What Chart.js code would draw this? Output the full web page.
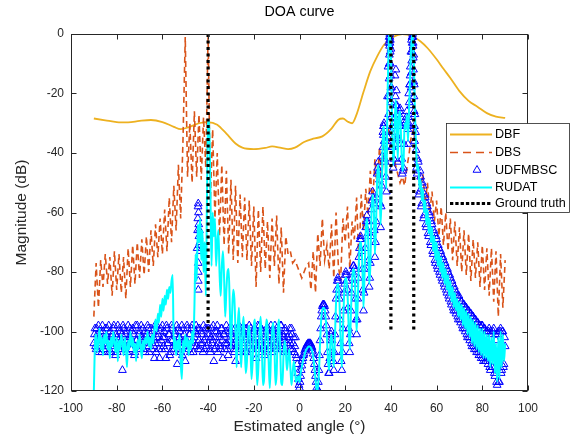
<!DOCTYPE html>
<html>
<head>
<meta charset="utf-8">
<script src="https://cdn.jsdelivr.net/npm/chart.js@4.4.1/dist/chart.umd.min.js"></script>
<style>
  html, body { margin: 0; padding: 0; background: #fff; }
  canvas { display: block; }
</style>
</head>
<body>
<canvas id="doaChart" width="583" height="437"></canvas>
<script>
// angle ticks and level ticks
const xTicks = [-100, -80, -60, -40, -20, 0, 20, 40, 60, 80, 100];
const yTicks = [-120, -100, -80, -60, -40, -20, 0];

// true directions of arrival
const truthAngles = [-40, 40, 50];
const truthLevels = [0, -100];

// DBF (smooth beam pattern)
const dbfAngles = [-90, -85, -80, -75, -70, -65, -60, -55, -52, -48,
    -44, -40, -36, -32, -28, -25, -20, -15, -12, -8,
    -5, -2, 2, 6, 10, 14, 17, 19, 21, 23,
    25, 28, 31, 34, 37, 41, 45, 49, 53, 56,
    60, 63, 66, 70, 74, 78, 82, 86, 90];
const dbfValues = [-28.4, -29.0, -29.6, -29.7, -29.2, -28.9, -29.6, -31.2, -32.0, -31.2,
    -30.0, -29.6, -30.5, -33.5, -36.8, -38.2, -38.7, -38.3, -37.8, -38.3,
    -38.7, -38.2, -36.3, -35.2, -34.4, -31.8, -28.8, -28.4, -29.4, -30.0,
    -27.0, -19.5, -12.5, -7.5, -3.6, -1.0, 0, -0.6, -2.5, -4.7,
    -8.5, -11.7, -14.8, -19.2, -22.5, -24.5, -26.6, -27.8, -28.2];

// DBS, sampled every 1 deg from -90 to 90
const dbsStart = -90, dbsStep = 1;
const dbsValues = [
    -95, -77, -92, -76, -85, -74, -84, -75, -88, -73,
    -86, -74, -87, -75, -89, -72, -85, -71, -84, -70,
    -82, -69, -81, -68, -80, -66, -78, -64, -75, -62,
    -74, -59, -73, -55, -70, -51, -66, -44, -62, -36,
    -1, -48, -30, -50, -26, -48, -27, -49, -28, -45,
    0, -56, -32, -62, -40, -68, -44, -71, -46, -74,
    -49, -76, -51, -77, -54, -75, -55, -76, -56, -78,
    -58, -85, -59, -80, -58, -79, -63, -82, -62, -78,
    -61, -84, -65, -87, -68, -74, -73, -77, -76, -78,
    -80, -82, -80, -78, -77, -86, -73, -87, -67, -78,
    -62, -76, -71, -79, -64, -82, -60, -78, -83, -62,
    -70, -58, -79, -63, -69, -55, -78, -54, -66, -52,
    -61, -46, -58, -42, -52, -38, -49, -36, -45, -32,
    -30, -38, -44, -47, -50, -48, -51, -45, -40, -34,
    -32, -40, -46, -52, -47, -57, -50, -60, -53, -63,
    -56, -68, -58, -71, -60, -73, -62, -76, -63, -78,
    -65, -80, -66, -81, -67, -83, -69, -82, -70, -85,
    -71, -86, -72, -88, -72, -90, -73, -95, -74, -92,
    -76];

// RUDAT, sampled every 0.5 deg from -90 to 90
const rudatStart = -90, rudatStep = 0.5;
const rudatValues = [
    -120, -104, -101, -107, -103, -99, -106, -102, -108, -101,
    -104, -100, -106, -103, -109, -102, -105, -100, -104, -107,
    -102, -110, -103, -106, -101, -104, -108, -102, -105, -112,
    -103, -106, -100, -105, -102, -107, -104, -110, -103, -106,
    -101, -105, -109, -103, -106, -102, -104, -100, -105, -102,
    -106, -101, -104, -99, -96, -100, -94, -97, -91, -95,
    -89, -93, -88, -91, -86, -89, -85, -87, -83, -81,
    -106, -102, -108, -103, -106, -101, -110, -116, -103, -107,
    -101, -105, -102, -108, -103, -106, -100, -104, -92, -74,
    -83, -64, -70, -62, -76, -66, -80, -70, -88, -55,
    -30, -29, -52, -78, -60, -68, -62, -78, -70, -66,
    -80, -88, -78, -73, -82, -95, -86, -80, -79, -92,
    -106, -94, -86, -89, -100, -112, -98, -92, -104, -112,
    -100, -95, -104, -114, -110, -100, -98, -104, -116, -110,
    -98, -96, -106, -118, -112, -100, -95, -104, -118, -116,
    -104, -96, -98, -110, -119, -108, -100, -97, -104, -118,
    -114, -100, -96, -104, -117, -118, -108, -103, -106, -113,
    -109, -106, -112, -118, -114, -110, -113, -117, -116, -115,
    -117, -114, -112, -110, -108.5, -107, -106, -105.5, -105, -105,
    -105.5, -106.5, -108.5, -112, -116, -120, -119, -114, -104, -96,
    -92.5, -92, -92.5, -96, -102, -110, -113, -104, -101, -106,
    -112, -102, -90, -84, -84, -90, -103, -112, -100, -88,
    -82, -82, -87, -98, -106, -94, -83, -79, -80, -88,
    -100, -90, -76, -70, -70, -78, -92, -80, -66, -62,
    -68, -84, -78, -60, -54, -58, -74, -64, -48, -44,
    -50, -64, -52, -34, -31, -42, -52, -22, -4, 0,
    -6, -30, -44, -38, -22, -28, -42, -28, -26, -36,
    -46, -44, -30, -32, -27, -36, -24, -12, -3, 0,
    -8, -26, -38, -46, -44, -52, -49, -56, -52, -60,
    -56, -64, -59, -67, -62, -70, -65, -73, -68, -76,
    -70, -78, -73, -80, -75, -82, -77, -84, -79, -86,
    -81, -88, -83, -90, -85, -92, -87, -93, -89, -95,
    -90, -96, -91, -98, -92, -99, -93, -101, -94, -102,
    -95, -104, -96, -105, -97, -106, -98, -107, -99, -108,
    -99, -109, -100, -109, -101, -110, -101, -112, -102, -111,
    -100, -114, -104, -117, -102, -116, -100, -112, -101, -110,
    -104];

// UDFMBSC, left half, samples at -90, -89.5, ... -0.5
const udfStep = 0.5;
const udfLeftStartA = -90;
const udfLeftValuesA = [
    -104, -99, -106, -101, -98, -105, -102, -107, -100, -103,
    -99, -106, -102, -98, -104, -107, -101, -99, -105, -108,
    -102, -98, -106, -100, -103, -113, -99, -105, -101, -107,
    -98, -104, -102, -106, -99, -101, -107, -103, -98, -105,
    -100, -106, -102, -99, -104, -107, -101, -98, -105, -103,
    -99, -106, -102, -109, -104, -98, -101, -106, -100, -103,
    -98, -105, -102, -109, -99, -104, -101, -107, -98, -103,
    -106, -100, -104, -111, -99, -102, -107, -98, -105, -101,
    -110, -103, -99, -106, -101, -104, -98, -107, -102, -100,
    -105, -99, -103, -106, -100, -104, -98, -106, -102, -99,
    -104, -101, -107, -99, -103, -110, -100, -105, -98, -104,
    -102, -106, -99, -109, -101, -104, -98, -106, -103, -100,
    -105, -99, -102, -107, -110, -101, -104, -98, -106, -102,
    -100, -105, -99, -103, -107, -101, -98, -104, -106, -100,
    -103, -99, -109, -105, -101, -98, -104, -107, -100, -102,
    -106, -99, -103, -101, -105, -98, -107, -102, -100, -104,
    -99, -106, -101, -103, -98, -105, -102, -107, -100, -104,
    -107, -101, -104, -99, -106, -102, -105, -108, -111, -116];

// UDFMBSC, left half, samples at -89.75, -89.25, ... -0.25
const udfLeftStartB = -89.75;
const udfLeftValuesB = [
    -101, -105, -99, -103, -107, -100, -104, -98, -106, -102,
    -105, -99, -103, -107, -100, -102, -106, -98, -104, -101,
    -107, -103, -99, -105, -101, -98, -104, -106, -100, -103,
    -102, -99, -106, -100, -104, -108, -98, -103, -105, -101,
    -104, -98, -103, -106, -100, -102, -105, -99, -107, -101,
    -103, -100, -105, -98, -107, -102, -104, -109, -99, -106,
    -102, -100, -106, -98, -104, -101, -108, -103, -99, -105,
    -101, -104, -98, -106, -102, -100, -104, -108, -99, -103,
    -105, -98, -104, -101, -107, -99, -103, -105, -100, -98,
    -101, -106, -99, -104, -101, -107, -103, -99, -105, -101,
    -99, -106, -102, -104, -98, -106, -102, -100, -107, -101,
    -105, -99, -103, -101, -106, -100, -104, -108, -99, -103,
    -101, -104, -106, -99, -103, -105, -100, -107, -102, -99,
    -104, -101, -107, -99, -102, -105, -103, -99, -101, -106,
    -100, -104, -102, -98, -106, -103, -99, -101, -105, -108,
    -102, -104, -99, -106, -101, -103, -100, -105, -98, -101,
    -104, -100, -105, -98, -106, -101, -103, -99, -106, -102,
    -103, -99, -106, -101, -104, -107, -102, -109, -114, -118];

// UDFMBSC, right half, samples at 0, 0.5, ... 90
const udfRightStartA = 0;
const udfRightValuesA = [
    -119, -115, -111.5, -109, -107.5, -106, -105, -104.5, -104, -104,
    -104.5, -105.5, -107.5, -111, -115, -119, -119.5, -113, -103, -95,
    -91.5, -91, -91.5, -95, -101, -111, -114, -103, -100, -107,
    -113, -101, -89, -83, -83, -89, -104, -113, -99, -87,
    -81, -81, -86, -99, -107, -93, -82, -78, -79, -89,
    -101, -89, -75, -69, -69, -79, -93, -79, -65, -61,
    -67, -85, -77, -59, -53, -57, -75, -63, -47, -43,
    -49, -65, -51, -33, -30, -43, -53, -21, -3, 0,
    -5, -31, -45, -37, -21, -27, -43, -27, -25, -37,
    -47, -45, -29, -31, -26, -37, -23, -11, -2, 0,
    -7, -27, -39, -47, -43, -53, -48, -57, -51, -61,
    -55, -65, -58, -68, -61, -71, -64, -74, -67, -77,
    -69, -79, -72, -81, -74, -83, -76, -85, -78, -87,
    -80, -89, -82, -91, -84, -93, -86, -94, -88, -96,
    -89, -97, -90, -99, -91, -100, -92, -102, -93, -103,
    -94, -105, -95, -106, -96, -107, -97, -108, -98, -109,
    -98, -110, -99, -110, -100, -111, -99, -113, -101, -112,
    -99, -115, -103, -118, -100, -117, -99, -113, -100, -111,
    -105];

// UDFMBSC, right half, samples at 0.25, 0.75, ... 89.75
const udfRightStartB = 0.25;
const udfRightValuesB = [
    -117, -113, -110, -108, -106.5, -105.5, -104.5, -104, -104, -104,
    -105, -106.5, -109, -113, -117, -120, -117, -108, -99, -93,
    -91, -91, -93, -98, -107, -114, -109, -101, -103, -110,
    -107, -95, -86, -82, -86, -96, -110, -107, -93, -84,
    -80, -83, -92, -104, -101, -87, -80, -78, -84, -96,
    -96, -82, -72, -68, -73, -86, -87, -72, -63, -63,
    -76, -82, -68, -56, -55, -66, -70, -55, -45, -46,
    -57, -58, -41, -31, -36, -48, -36, -11, -1, -2,
    -18, -38, -42, -28, -24, -35, -35, -26, -31, -42,
    -46, -37, -30, -28, -31, -30, -17, -6, -1, -3,
    -17, -33, -45, -42, -54, -46, -58, -50, -62, -54,
    -64, -57, -67, -60, -70, -63, -73, -66, -76, -68,
    -78, -71, -80, -73, -82, -75, -84, -77, -86, -79,
    -88, -81, -90, -83, -92, -85, -93, -87, -95, -88,
    -96, -90, -98, -91, -99, -92, -101, -93, -102, -94,
    -104, -95, -105, -96, -106, -97, -107, -98, -108, -98,
    -109, -99, -110, -100, -110, -100, -112, -100, -112, -100,
    -114, -101, -117, -101, -117, -100, -114, -100, -112, -102];

// UDFMBSC, extra samples on the steep parts
const udfSpikeAngles = [-44.8, -44.6, -44.5, -44.4, -44.3, -44.2, -44.1, -44.0, -43.9, -43.8, -43.6, -43.4,
    -44.3, -44.3, -44.3, -44.3];
const udfSpikeValues = [-72, -66, -62, -58, -57, -60, -64, -68, -71, -66, -70, -73,
    -77, -80, -83, -86];
const udfPeakAngles = [36.6, 36.7, 36.9, 37.1, 37.3,
    38.9, 39.0, 39.1, 39.2, 39.3, 39.35, 39.4, 39.45, 39.55, 39.6, 39.7, 39.8, 39.9, 40.0, 40.1, 40.2, 40.3, 40.4,
    41.6, 41.8, 42.2, 42.4, 42.6, 42.8,
    47.2, 47.4, 47.6, 47.8, 48.2, 48.4,
    48.8, 48.9, 49.0, 49.1, 49.2, 49.3, 49.4, 49.6, 49.7, 49.8, 49.9, 50.0, 50.1, 50.2, 50.3, 50.4];
const udfPeakValues = [-38, -34, -31, -36, -42,
    -35, -27, -21, -15, -10, -7, -4, -2, -1, -3, -6, -10, -14, -18, -23, -28, -33, -38,
    -30, -14, -12, -19, -24, -35,
    -30, -32, -28, -20, -17, -14,
    -24, -18, -13, -9, -6, -3, -1, -1, -4, -8, -12, -16, -21, -26, -31, -36];

const FONT = "'Liberation Sans', Arial, Helvetica, sans-serif";
const AXIS_COLOR = '#262626';

function gridPoints(start, step, values) {
    return values.map((v, i) => ({ x: start + i * step, y: v }));
}

function pairPoints(angles, values) {
    return angles.map((a, i) => ({ x: a, y: values[i] }));
}

function truthPoints() {
    const pts = [];
    truthAngles.forEach(a => {
        pts.push({ x: a, y: truthLevels[0] });
        pts.push({ x: a, y: truthLevels[1] });
        pts.push({ x: a, y: null });
    });
    return pts;
}

// box, inward ticks, title, axis labels and the legend are drawn here
const matlabLook = {
    id: 'matlabLook',
    afterDatasetsDraw(chart) {
        const ctx = chart.ctx;
        const area = chart.chartArea;
        const xs = chart.scales.x;
        const ys = chart.scales.y;
        const L = Math.round(area.left) + 0.5, R = Math.round(area.right) - 0.5;
        const T = Math.round(area.top) + 0.5, B = Math.round(area.bottom) - 0.5;

        ctx.save();
        ctx.strokeStyle = AXIS_COLOR;
        ctx.lineWidth = 1;
        ctx.setLineDash([]);
        ctx.strokeRect(L, T, R - L, B - T);

        ctx.beginPath();
        xTicks.forEach(v => {
            const px = Math.round(xs.getPixelForValue(v)) + 0.5;
            ctx.moveTo(px, B); ctx.lineTo(px, B - 5);
            ctx.moveTo(px, T); ctx.lineTo(px, T + 5);
        });
        yTicks.forEach(v => {
            const py = Math.round(ys.getPixelForValue(v)) + 0.5;
            ctx.moveTo(L, py); ctx.lineTo(L + 5, py);
            ctx.moveTo(R, py); ctx.lineTo(R - 5, py);
        });
        ctx.stroke();

        // titles
        ctx.fillStyle = '#000';
        ctx.textAlign = 'center';
        ctx.textBaseline = 'middle';
        ctx.font = '14.3px ' + FONT;
        ctx.fillText('DOA curve', (area.left + area.right) / 2, 12);
        ctx.fillStyle = AXIS_COLOR;
        ctx.font = '15.5px ' + FONT;
        ctx.fillText('Estimated angle (°)', (area.left + area.right) / 2, 427);
        ctx.save();
        ctx.translate(22, (area.top + area.bottom) / 2);
        ctx.rotate(-Math.PI / 2);
        ctx.fillText('Magnitude (dB)', 0, 0);
        ctx.restore();

        // legend box
        const box = { x: 446.5, y: 123.5, w: 123, h: 89 };
        ctx.fillStyle = '#fff';
        ctx.fillRect(box.x, box.y, box.w, box.h);
        ctx.strokeStyle = AXIS_COLOR;
        ctx.lineWidth = 0.8;
        ctx.strokeRect(box.x, box.y, box.w, box.h);

        const rowY = [134, 152, 170, 187, 203];
        const x0 = 450, x1 = 492;
        ctx.font = '12.6px ' + FONT;
        ctx.textAlign = 'left';
        chart.data.datasets.forEach((ds, i) => {
            const y = rowY[i];
            ctx.save();
            if (ds.showLine === false) {
                ctx.strokeStyle = ds.borderColor;
                ctx.lineWidth = 1;
                const cx = 477, r = 4.5;
                ctx.beginPath();
                ctx.moveTo(cx, y - r);
                ctx.lineTo(cx + r * Math.sin(2 * Math.PI / 3), y - r * Math.cos(2 * Math.PI / 3));
                ctx.lineTo(cx + r * Math.sin(4 * Math.PI / 3), y - r * Math.cos(4 * Math.PI / 3));
                ctx.closePath();
                ctx.stroke();
            } else {
                ctx.strokeStyle = ds.borderColor;
                ctx.lineWidth = ds.borderWidth;
                ctx.setLineDash(ds.legendDash || ds.borderDash || []);
                ctx.beginPath();
                ctx.moveTo(x0, y + 0.5);
                ctx.lineTo(x1, y + 0.5);
                ctx.stroke();
            }
            ctx.restore();
            ctx.fillStyle = '#000';
            ctx.fillText(ds.label, 495, y + 0.5);
        });
        ctx.restore();
    }
};

const ctx = document.getElementById('doaChart').getContext('2d');
window.doaChart = new Chart(ctx, {
    type: 'scatter',
    data: {
        datasets: [{
            label: 'DBF',
            data: pairPoints(dbfAngles, dbfValues),
            showLine: true,
            borderColor: '#EDB120',
            borderWidth: 1.8,
            pointRadius: 0,
            cubicInterpolationMode: 'monotone',
            order: 5
        }, {
            label: 'DBS',
            data: gridPoints(dbsStart, dbsStep, dbsValues),
            showLine: true,
            borderColor: '#D95319',
            borderWidth: 1.6,
            borderDash: [6, 4],
            legendDash: [8, 5],
            pointRadius: 0,
            order: 4
        }, {
            label: 'UDFMBSC',
            data: gridPoints(udfLeftStartA, udfStep, udfLeftValuesA)
                .concat(gridPoints(udfLeftStartB, udfStep, udfLeftValuesB))
                .concat(gridPoints(udfRightStartA, udfStep, udfRightValuesA))
                .concat(gridPoints(udfRightStartB, udfStep, udfRightValuesB))
                .concat(pairPoints(udfSpikeAngles, udfSpikeValues))
                .concat(pairPoints(udfPeakAngles, udfPeakValues)),
            showLine: false,
            pointStyle: 'triangle',
            pointRadius: 4.5,
            borderWidth: 1,
            borderColor: '#0000FF',
            backgroundColor: 'rgba(0,0,0,0)',
            order: 3
        }, {
            label: 'RUDAT',
            data: gridPoints(rudatStart, rudatStep, rudatValues),
            showLine: true,
            borderColor: '#00FFFF',
            borderWidth: 2,
            pointRadius: 0,
            cubicInterpolationMode: 'monotone',
            order: 2
        }, {
            label: 'Ground truth',
            data: truthPoints(),
            showLine: true,
            spanGaps: false,
            borderColor: '#000000',
            borderWidth: 3.2,
            borderDash: [3, 3.5],
            legendDash: [3.3, 2],
            pointRadius: 0,
            order: 1
        }]
    },
    options: {
        responsive: false,
        animation: false,
        events: [],
        layout: { padding: { top: 34, right: 55, bottom: 0, left: 0 } },
        plugins: {
            legend: { display: false },
            title: { display: false },
            tooltip: { enabled: false }
        },
        scales: {
            x: {
                type: 'linear',
                min: -100,
                max: 100,
                afterFit: s => { s.height = 46; },
                afterBuildTicks: s => { s.ticks = xTicks.map(v => ({ value: v })); },
                grid: { display: false, drawTicks: false },
                border: { display: false },
                ticks: { color: AXIS_COLOR, font: { family: FONT, size: 12 }, padding: 10, maxRotation: 0 }
            },
            y: {
                type: 'linear',
                min: -120,
                max: 0,
                afterFit: s => { s.width = 71; },
                afterBuildTicks: s => { s.ticks = yTicks.map(v => ({ value: v })); },
                grid: { display: false, drawTicks: false },
                border: { display: false },
                ticks: { color: AXIS_COLOR, font: { family: FONT, size: 12 }, padding: 7 }
            }
        }
    },
    plugins: [matlabLook]
});
</script>
</body>
</html>
